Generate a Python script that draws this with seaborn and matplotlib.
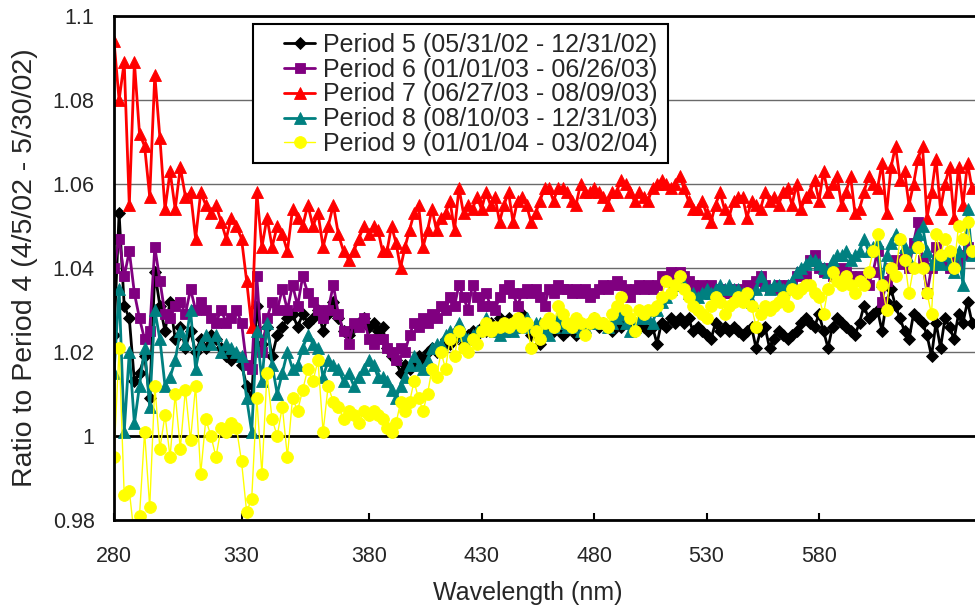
import numpy as np
import pandas as pd
import matplotlib
matplotlib.use("Agg")
import matplotlib.pyplot as plt
from matplotlib.patches import Rectangle
import seaborn as sns

# ---------------- data ----------------
# wavelength categories (nm): 280..380 (UV part) and 382..648 (visible part)
wl_uv = list(range(280, 381, 2))
wl_vis = list(range(382, 649, 2))

p5_uv = [1.024, 1.053, 1.031, 1.028, 1.013, 1.015, 1.019, 1.009, 1.039, 1.031,
         1.025, 1.032, 1.023, 1.026, 1.021, 1.025, 1.020, 1.023, 1.021, 1.024,
         1.023, 1.021, 1.019, 1.018, 1.019, 1.017, 1.012, 1.009, 1.031, 1.022,
         1.026, 1.019, 1.024, 1.026, 1.028, 1.029, 1.026, 1.029, 1.027, 1.028,
         1.030, 1.025, 1.029, 1.032, 1.028, 1.025, 1.024, 1.026, 1.027, 1.028,
         1.026]
p5_vis = [1.027, 1.025, 1.026, 1.021, 1.019, 1.018, 1.015, 1.017, 1.016, 1.017,
          1.019, 1.018, 1.020, 1.021, 1.020, 1.021, 1.023, 1.022, 1.023, 1.024,
          1.022, 1.024, 1.025, 1.024, 1.026, 1.025, 1.027, 1.026, 1.028, 1.027,
          1.028, 1.026, 1.028, 1.029, 1.027, 1.024, 1.026, 1.022, 1.025, 1.026,
          1.025, 1.027, 1.024, 1.025, 1.026, 1.024, 1.025, 1.026, 1.027, 1.028,
          1.026, 1.027, 1.026, 1.025, 1.027, 1.026, 1.028, 1.027, 1.025, 1.027,
          1.026, 1.025, 1.026, 1.022, 1.027, 1.026, 1.028, 1.027, 1.028, 1.027,
          1.028, 1.025, 1.026, 1.025, 1.024, 1.023, 1.027, 1.025, 1.026, 1.025,
          1.026, 1.025, 1.024, 1.025, 1.026, 1.021, 1.025, 1.026, 1.021, 1.023,
          1.025, 1.024, 1.023, 1.024, 1.025, 1.027, 1.028, 1.027, 1.026, 1.029,
          1.025, 1.021, 1.026, 1.028, 1.027, 1.026, 1.025, 1.024, 1.027, 1.031,
          1.028, 1.029, 1.030, 1.025, 1.032, 1.035, 1.031, 1.028, 1.025, 1.023,
          1.029, 1.028, 1.027, 1.024, 1.019, 1.027, 1.021, 1.028, 1.026, 1.023,
          1.029, 1.027, 1.032, 1.027]

p6_uv = [1.040, 1.047, 1.038, 1.044, 1.034, 1.028, 1.023, 1.025, 1.045, 1.037,
         1.029, 1.028, 1.031, 1.032, 1.029, 1.035, 1.030, 1.032, 1.030, 1.028,
         1.027, 1.030, 1.027, 1.028, 1.030, 1.027, 1.017, 1.016, 1.038, 1.020,
         1.028, 1.032, 1.030, 1.035, 1.030, 1.036, 1.031, 1.038, 1.034, 1.032,
         1.030, 1.028, 1.030, 1.036, 1.029, 1.025, 1.022, 1.027, 1.026, 1.028,
         1.023]
p6_vis = [1.022, 1.023, 1.023, 1.021, 1.020, 1.018, 1.021, 1.020, 1.024, 1.027,
          1.026, 1.028, 1.027, 1.029, 1.028, 1.031, 1.030, 1.033, 1.031, 1.036,
          1.033, 1.030, 1.036, 1.033, 1.031, 1.034, 1.031, 1.030, 1.033, 1.035,
          1.036, 1.034, 1.031, 1.034, 1.035, 1.034, 1.035, 1.033, 1.031, 1.035,
          1.034, 1.036, 1.035, 1.035, 1.034, 1.035, 1.034, 1.035, 1.033, 1.034,
          1.035, 1.036, 1.035, 1.036, 1.037, 1.036, 1.035, 1.033, 1.035, 1.036,
          1.035, 1.036, 1.035, 1.036, 1.038, 1.037, 1.039, 1.038, 1.039, 1.038,
          1.037, 1.036, 1.035, 1.036, 1.035, 1.036, 1.035, 1.035, 1.034, 1.034,
          1.035, 1.034, 1.035, 1.036, 1.035, 1.037, 1.038, 1.036, 1.035, 1.035,
          1.036, 1.035, 1.036, 1.036, 1.038, 1.039, 1.038, 1.042, 1.043, 1.040,
          1.039, 1.040, 1.038, 1.039, 1.040, 1.039, 1.038, 1.037, 1.038, 1.037,
          1.036, 1.039, 1.044, 1.032, 1.037, 1.040, 1.042, 1.041, 1.043, 1.040,
          1.046, 1.051, 1.042, 1.034, 1.040, 1.045, 1.043, 1.041, 1.040, 1.042,
          1.041, 1.043, 1.045, 1.044]

p7_uv = [1.094, 1.080, 1.089, 1.055, 1.089, 1.072, 1.069, 1.057, 1.086, 1.071,
         1.054, 1.063, 1.054, 1.064, 1.057, 1.058, 1.047, 1.058, 1.055, 1.053,
         1.055, 1.051, 1.047, 1.052, 1.050, 1.047, 1.037, 1.026, 1.058, 1.045,
         1.052, 1.045, 1.050, 1.048, 1.044, 1.054, 1.052, 1.050, 1.055, 1.050,
         1.053, 1.045, 1.050, 1.055, 1.048, 1.044, 1.042, 1.044, 1.047, 1.050,
         1.048]
p7_vis = [1.050, 1.049, 1.044, 1.044, 1.050, 1.046, 1.040, 1.045, 1.049, 1.053,
          1.055, 1.045, 1.049, 1.054, 1.049, 1.052, 1.053, 1.056, 1.049, 1.059,
          1.053, 1.055, 1.054, 1.057, 1.054, 1.058, 1.055, 1.057, 1.051, 1.055,
          1.058, 1.051, 1.056, 1.057, 1.055, 1.051, 1.053, 1.056, 1.059, 1.059,
          1.056, 1.059, 1.059, 1.058, 1.056, 1.055, 1.060, 1.058, 1.058, 1.059,
          1.058, 1.057, 1.055, 1.058, 1.058, 1.061, 1.060, 1.058, 1.056, 1.058,
          1.057, 1.056, 1.059, 1.060, 1.061, 1.060, 1.059, 1.060, 1.062, 1.059,
          1.056, 1.054, 1.054, 1.056, 1.053, 1.051, 1.055, 1.058, 1.054, 1.052,
          1.056, 1.057, 1.057, 1.052, 1.056, 1.055, 1.054, 1.058, 1.056, 1.057,
          1.055, 1.058, 1.059, 1.055, 1.060, 1.054, 1.057, 1.058, 1.061, 1.056,
          1.063, 1.058, 1.060, 1.062, 1.055, 1.058, 1.062, 1.053, 1.054, 1.058,
          1.062, 1.060, 1.059, 1.065, 1.053, 1.064, 1.069, 1.061, 1.063, 1.055,
          1.060, 1.066, 1.069, 1.052, 1.058, 1.066, 1.054, 1.060, 1.064, 1.052,
          1.064, 1.055, 1.065, 1.059]

p8_uv = [1.015, 1.035, 1.001, 1.020, 1.003, 1.012, 1.021, 1.007, 1.030, 1.023,
         1.012, 1.014, 1.018, 1.025, 1.022, 1.030, 1.016, 1.022, 1.024, 1.022,
         1.024, 1.020, 1.022, 1.021, 1.020, 1.019, 1.009, 1.001, 1.025, 1.013,
         1.027, 1.017, 1.010, 1.015, 1.020, 1.016, 1.017, 1.021, 1.024, 1.022,
         1.021, 1.014, 1.018, 1.017, 1.016, 1.013, 1.015, 1.012, 1.014, 1.016,
         1.018]
p8_vis = [1.017, 1.014, 1.014, 1.013, 1.011, 1.009, 1.012, 1.014, 1.017, 1.019,
          1.017, 1.016, 1.018, 1.021, 1.022, 1.022, 1.024, 1.025, 1.025, 1.027,
          1.024, 1.023, 1.024, 1.025, 1.026, 1.028, 1.026, 1.025, 1.024, 1.025,
          1.026, 1.025, 1.026, 1.027, 1.028, 1.026, 1.027, 1.027, 1.025, 1.024,
          1.026, 1.028, 1.027, 1.026, 1.026, 1.027, 1.025, 1.026, 1.027, 1.028,
          1.027, 1.027, 1.026, 1.027, 1.028, 1.029, 1.027, 1.025, 1.026, 1.028,
          1.029, 1.028, 1.027, 1.030, 1.032, 1.033, 1.035, 1.036, 1.037, 1.036,
          1.034, 1.034, 1.033, 1.034, 1.035, 1.034, 1.035, 1.036, 1.035, 1.036,
          1.035, 1.035, 1.034, 1.034, 1.032, 1.035, 1.038, 1.036, 1.035, 1.036,
          1.036, 1.035, 1.036, 1.037, 1.039, 1.040, 1.041, 1.042, 1.042, 1.041,
          1.040, 1.039, 1.042, 1.043, 1.043, 1.044, 1.042, 1.043, 1.044, 1.047,
          1.044, 1.045, 1.046, 1.037, 1.043, 1.046, 1.048, 1.047, 1.045, 1.042,
          1.045, 1.048, 1.050, 1.044, 1.041, 1.042, 1.041, 1.043, 1.041, 1.039,
          1.044, 1.036, 1.054, 1.043]

p9_uv = [0.995, 1.021, 0.986, 0.987, 0.976, 0.981, 1.001, 0.983, 1.012, 0.997,
         1.005, 0.995, 1.010, 0.997, 1.011, 0.999, 1.012, 0.991, 1.004, 1.000,
         0.995, 1.002, 1.001, 1.003, 1.002, 0.994, 0.982, 0.985, 1.009, 0.991,
         1.015, 1.004, 1.000, 1.007, 0.995, 1.009, 1.006, 1.011, 1.016, 1.013,
         1.018, 1.001, 1.012, 1.008, 1.007, 1.004, 1.006, 1.005, 1.003, 1.006,
         1.005]
p9_vis = [1.006, 1.005, 1.004, 1.002, 1.001, 1.003, 1.008, 1.006, 1.008, 1.013,
          1.009, 1.006, 1.010, 1.016, 1.014, 1.020, 1.016, 1.023, 1.019, 1.025,
          1.021, 1.020, 1.023, 1.022, 1.025, 1.027, 1.025, 1.026, 1.026, 1.027,
          1.026, 1.027, 1.028, 1.026, 1.027, 1.021, 1.025, 1.023, 1.027, 1.028,
          1.026, 1.031, 1.029, 1.027, 1.026, 1.028, 1.027, 1.024, 1.027, 1.028,
          1.027, 1.027, 1.026, 1.029, 1.031, 1.033, 1.030, 1.028, 1.025, 1.030,
          1.029, 1.030, 1.030, 1.031, 1.033, 1.037, 1.034, 1.036, 1.038, 1.035,
          1.033, 1.031, 1.030, 1.029, 1.028, 1.031, 1.033, 1.032, 1.029, 1.031,
          1.032, 1.033, 1.032, 1.034, 1.031, 1.026, 1.029, 1.031, 1.030, 1.031,
          1.032, 1.033, 1.031, 1.035, 1.034, 1.035, 1.036, 1.036, 1.034, 1.033,
          1.029, 1.035, 1.039, 1.037, 1.036, 1.038, 1.036, 1.034, 1.037, 1.036,
          1.039, 1.044, 1.048, 1.036, 1.030, 1.040, 1.038, 1.047, 1.042, 1.034,
          1.040, 1.045, 1.040, 1.034, 1.029, 1.048, 1.043, 1.047, 1.044, 1.040,
          1.050, 1.047, 1.051, 1.044]

labels = ["Period 5 (05/31/02 - 12/31/02)",
          "Period 6 (01/01/03 - 06/26/03)",
          "Period 7 (06/27/03 - 08/09/03)",
          "Period 8 (08/10/03 - 12/31/03)",
          "Period 9 (01/01/04 - 03/02/04)"]
series = [p5_uv + p5_vis, p6_uv + p6_vis, p7_uv + p7_vis, p8_uv + p8_vis, p9_uv + p9_vis]
x_ticks = [280, 330, 380, 430, 480, 530, 580]
y_ticks = [0.98, 1.0, 1.02, 1.04, 1.06, 1.08, 1.1]
y_tick_labels = ["0.98", "1", "1.02", "1.04", "1.06", "1.08", "1.1"]

# ---------------- styling ----------------
colors = ["#000000", "#800080", "#FF0000", "#008080", "#FFFF00"]
markers = ["D", "s", "^", "^", "o"]
msizes = [6.5, 7.5, 8.5, 8.5, 8.5]
lwidths = [2.0, 2.0, 2.0, 2.0, 1.0]

wl = wl_uv + wl_vis
df = pd.DataFrame({
    "Wavelength": np.tile(wl, len(labels)),
    "Ratio": np.concatenate([np.asarray(s, float) for s in series]),
    "Period": np.repeat(labels, len(wl)),
})

sns.set_style("white")
plt.rcParams["font.family"] = ["Liberation Sans", "DejaVu Sans"]

W, H = 975, 616
fig = plt.figure(figsize=(W / 100, H / 100), dpi=100)
ax = fig.add_axes([114 / W, 96 / H, 861 / W, 504 / H])

# Excel category axis: UV points are spread wider than visible points
knots_nm = [200, 280, 380, 800]
knots_pos = [-204.0, 0.0, 255.0, 255.0 + 420 * 2.25]
ax.set_xscale("function",
              functions=(lambda v: np.interp(v, knots_nm, knots_pos),
                         lambda p: np.interp(p, knots_pos, knots_nm)))

for lab, col, mk, ms, lw in zip(labels, colors, markers, msizes, lwidths):
    sns.lineplot(data=df[df["Period"] == lab], x="Wavelength", y="Ratio", ax=ax,
                 color=col, marker=mk, markersize=ms, linewidth=lw,
                 markeredgecolor=col, markeredgewidth=0.6,
                 estimator=None, sort=False, label=lab)

ax.set_xlim(280, 380 + (975 - 369) / 2.25)
ax.set_ylim(0.98, 1.1)
ax.set_xticks(x_ticks)
ax.set_xticklabels([str(t) for t in x_ticks])
ax.set_yticks(y_ticks)
ax.set_yticklabels(y_tick_labels)

ax.set_axisbelow(True)
ax.grid(axis="y", color="#6a6a6a", linewidth=1.0)
ax.grid(axis="x", visible=False)
for t, gl in zip(y_ticks, ax.get_ygridlines()):
    if abs(t - 1.0) < 1e-9:
        gl.set_color("black")
        gl.set_linewidth(2.0)

for side in ["left", "bottom", "top"]:
    ax.spines[side].set_visible(True)
    ax.spines[side].set_color("black")
    ax.spines[side].set_linewidth(2.0)
ax.spines["right"].set_visible(False)

ax.tick_params(axis="x", direction="in", length=5, width=1.5, color="black",
               labelsize=15.5, pad=19, bottom=True)
ax.tick_params(axis="y", length=0, labelsize=15.5, pad=14)

ax.set_xlabel("Wavelength (nm)", fontsize=18)
ax.xaxis.set_label_coords(0.48, -0.122)
ax.set_ylabel("Ratio to Period 4 (4/5/02 - 5/30/02)", fontsize=20.5)
ax.yaxis.set_label_coords(-0.088, 0.5)

# legend box (frame drawn as a patch so the handle offset matches the original)
ax.add_patch(Rectangle((253 / W, 1 - 163 / H), (668 - 253) / W, (163 - 24) / H,
                       transform=fig.transFigure, facecolor="white",
                       edgecolor="black", linewidth=1.5, zorder=4, clip_on=False))
handles, labs = ax.get_legend_handles_labels()
leg = ax.legend(handles, labs, loc="upper left",
                bbox_to_anchor=(284 / W, 1 - 33 / H), bbox_transform=fig.transFigure,
                frameon=False, fontsize=18, handlelength=1.25, handletextpad=0.3,
                labelspacing=0.03, borderpad=0.0, borderaxespad=0.0)
leg.set_zorder(6)

fig.savefig("out.png", dpi=100)
